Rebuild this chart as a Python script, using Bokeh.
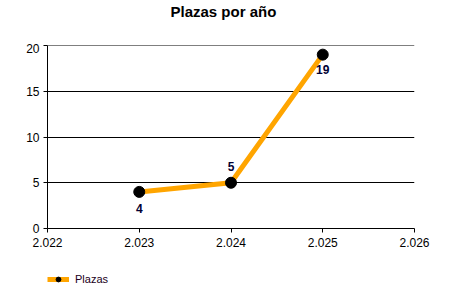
from bokeh.plotting import figure
from bokeh.layouts import column
from bokeh.models import ColumnDataSource, Legend, LegendItem, FixedTicker, Range1d, Title, Span
from bokeh.core.properties import value
from bokeh.embed import file_html
from bokeh.resources import INLINE

years = [2023, 2024, 2025]
plazas = [4, 5, 19]
label_offsets = [17, -16, 15]
x_ticks = [2022, 2023, 2024, 2025, 2026]
x_tick_labels = ["2.022", "2.023", "2.024", "2.025", "2.026"]
y_ticks = [0, 5, 10, 15, 20]
series_name = "Plazas"
chart_title = "Plazas por año"

FONT = "Liberation Sans"


def strip(height):
    f = figure(width=450, height=height, output_backend="svg", toolbar_location=None,
               x_range=Range1d(0, 1), y_range=Range1d(0, 1),
               x_axis_location=None, y_axis_location=None,
               min_border=0, min_border_left=0, min_border_right=0,
               min_border_top=0, min_border_bottom=0)
    f.grid.visible = False
    f.outline_line_color = None
    f.background_fill_color = "white"
    f.border_fill_color = "white"
    return f


# title strip
tf = strip(43)
tf.title = None
tf.add_layout(Title(text=chart_title, align="left", text_font=FONT,
                    text_font_size="15px", text_font_style="bold", text_color="#000000",
                    offset=123, standoff=0), "above")
tf.min_border_top = 15

p = figure(width=450, height=219, frame_width=367, frame_height=183,
           output_backend="svg", toolbar_location=None,
           x_range=Range1d(2022, 2026), y_range=Range1d(0, 20),
           min_border_left=47, min_border_right=36, min_border_top=2, min_border_bottom=34)
p.title = None
p.outline_line_color = None
p.background_fill_color = "white"
p.border_fill_color = "white"

p.xgrid.grid_line_color = None
p.ygrid.grid_line_color = "black"
p.ygrid.grid_line_width = 1
p.ygrid.ticker = FixedTicker(ticks=y_ticks)
p.add_layout(Span(location=y_ticks[-1], dimension="width", line_color="black", line_width=1))

for ax in (p.xaxis[0], p.yaxis[0]):
    ax.axis_line_color = "black"
    ax.major_tick_line_color = "black"
    ax.major_tick_out = 4
    ax.major_tick_in = 0
    ax.minor_tick_line_color = None
    ax.major_label_text_font = FONT
    ax.major_label_text_font_size = "12px"
    ax.major_label_text_color = "black"

p.xaxis.ticker = FixedTicker(ticks=x_ticks)
p.xaxis.major_label_overrides = {t: l for t, l in zip(x_ticks, x_tick_labels)}
p.xaxis.major_label_standoff = 5
p.yaxis.ticker = FixedTicker(ticks=y_ticks)
p.yaxis.major_label_standoff = 4

src = ColumnDataSource(dict(x=years, y=plazas, lab=[str(v) for v in plazas], off=label_offsets))
p.line("x", "y", source=src, line_color="#FFA500", line_width=5)
p.scatter("x", "y", source=src, size=11, fill_color="black", line_color="black")
p.text("x", "y", text="lab", source=src, y_offset="off", text_align="center",
       text_baseline="middle", text_font=value(FONT), text_font_size="12px",
       text_font_style="bold", text_color="#000033")

# legend strip below the chart
lf = strip(38)
lg_line = lf.line([float("nan")], [float("nan")], line_color="#FFA500", line_width=5)
lg_dot = lf.scatter([float("nan")], [float("nan")], size=5, fill_color="black", line_color="black")
legend = Legend(items=[LegendItem(label=series_name, renderers=[lg_line, lg_dot])],
                location=(0, 15), orientation="horizontal",
                label_text_font=FONT, label_text_font_size="11px", label_text_color="#200020",
                glyph_width=22, glyph_height=12, label_standoff=6, label_height=12,
                border_line_color=None, background_fill_alpha=0, padding=0, margin=0)
lf.add_layout(legend, "center")

layout = column(tf, p, lf, spacing=0)
open("out.html", "w").write(file_html(layout, INLINE))
